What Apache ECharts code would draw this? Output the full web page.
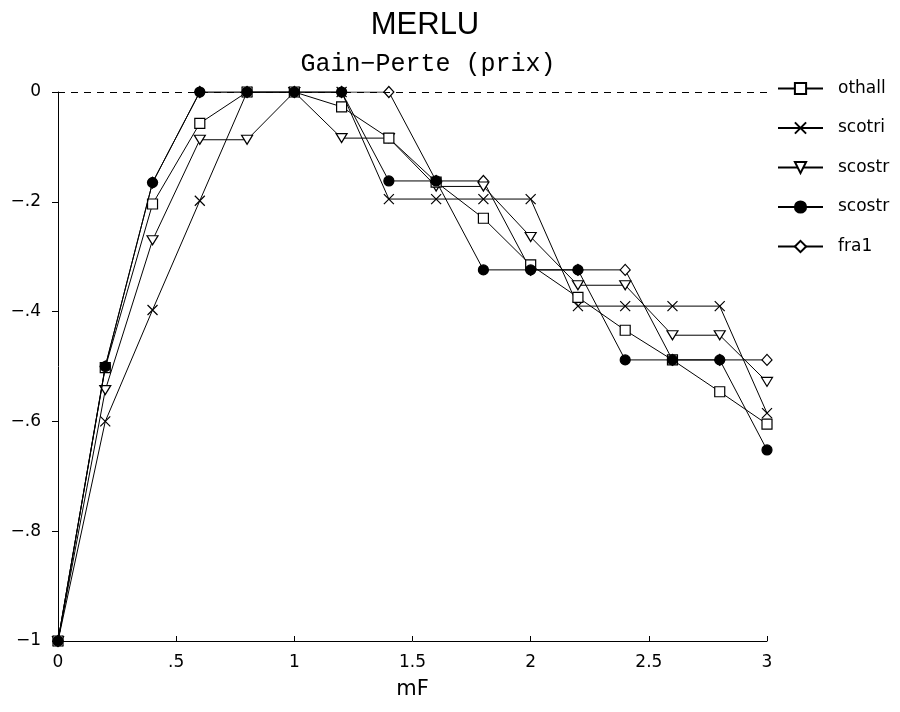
<!DOCTYPE html>
<html>
<head>
<meta charset="utf-8">
<script src="https://cdn.jsdelivr.net/npm/echarts@6/dist/echarts.min.js"></script>
<style>html,body{margin:0;padding:0;background:#fff}#c{width:900px;height:712px}</style>
</head>
<body>
<div id="c"></div>
<script>
const xValues = [0, 0.2, 0.4, 0.6, 0.8, 1.0, 1.2, 1.4, 1.6, 1.8, 2.0, 2.2, 2.4, 2.6, 2.8, 3.0];
const othall  = [-1, -0.502, -0.204, -0.057, 0, 0, -0.027, -0.084, -0.164, -0.230, -0.315, -0.374, -0.434, -0.488, -0.546, -0.605];
const scotri  = [-1, -0.600, -0.397, -0.198, 0, 0, 0, -0.195, -0.195, -0.195, -0.195, -0.390, -0.390, -0.390, -0.390, -0.585];
const scostrOpen = [-1, -0.543, -0.270, -0.087, -0.087, 0, -0.084, -0.084, -0.172, -0.172, -0.264, -0.352, -0.352, -0.443, -0.443, -0.528];
const scostrFill = [-1, -0.500, -0.165, 0, 0, 0, 0, -0.162, -0.162, -0.324, -0.324, -0.324, -0.488, -0.488, -0.488, -0.652];
const fra1    = [-1, -0.500, -0.165, 0, 0, 0, 0, 0, -0.162, -0.162, -0.324, -0.324, -0.324, -0.488, -0.488, -0.488];
const seriesNames = ['othall', 'scotri', 'scostr', 'scostr ', 'fra1'];
const xTickLabels = ['0', '.5', '1', '1.5', '2', '2.5', '3'];
const yTickLabels = ['\u22121', '\u2212.8', '\u2212.6', '\u2212.4', '\u2212.2', '0'];
const titleText = 'MERLU';
const subtitleText = 'Gain\u2212Perte (prix)';
const xAxisName = 'mF';

const pair = arr => xValues.map((x, i) => [x, arr[i]]);
const sym = {
  rect: 'rect',
  cross: 'path://M0,0L10,10M10,0L0,10',
  tri: 'path://M0,0L10,0L5,9Z',
  circle: 'circle',
  diamond: 'diamond'
};
function mk(name, data, symbol, size, fill, z) {
  return {
    name: name, type: 'line', data: pair(data), z: z,
    symbol: symbol, symbolSize: size, showSymbol: true,
    lineStyle: { color: '#000', width: 1 },
    itemStyle: { color: fill, borderColor: '#000', borderWidth: 1.2 },
    emphasis: { disabled: true }
  };
}
const series = [
  mk(seriesNames[0], othall, sym.rect, 10, '#fff', 4),
  mk(seriesNames[1], scotri, sym.cross, [10, 10], 'rgba(0,0,0,0)', 3),
  mk(seriesNames[2], scostrOpen, sym.tri, [11, 9], '#fff', 3),
  mk(seriesNames[3], scostrFill, sym.circle, 10, '#000', 5),
  mk(seriesNames[4], fra1, sym.diamond, [10, 11], '#fff', 2)
];
series[4].markLine = {
  silent: true, symbol: ['none', 'none'], label: { show: false },
  lineStyle: { color: '#000', type: [7, 6], width: 1 },
  data: [{ yAxis: 0 }]
};

const chart = echarts.init(document.getElementById('c'), null, { renderer: 'canvas' });
chart.setOption({
  animation: false,
  backgroundColor: '#fff',
  title: [
    { text: titleText, left: 425, top: 10, textAlign: 'center', padding: 0,
      textStyle: { fontFamily: 'Liberation Sans', fontSize: 31, fontWeight: 'normal', color: '#000' } },
    { text: subtitleText, left: 428, top: 52, textAlign: 'center', padding: 0,
      textStyle: { fontFamily: 'Liberation Mono', fontSize: 25, fontWeight: 'normal', color: '#000' } }
  ],
  legend: {
    orient: 'vertical', left: 777, top: 80, padding: 0,
    itemWidth: 45, itemHeight: 14, itemGap: 22.5,
    data: seriesNames,
    textStyle: { fontFamily: 'DejaVu Sans', fontSize: 17, color: '#000', padding: [0, 0, 0, 10] },
    selectedMode: false
  },
  grid: { left: 58, right: 133, top: 92, bottom: 71 },
  xAxis: {
    type: 'value', min: 0, max: 3, interval: 0.5,
    name: xAxisName, nameLocation: 'middle', nameGap: 38,
    nameTextStyle: { fontFamily: 'DejaVu Sans', fontSize: 21, color: '#000' },
    axisLine: { onZero: false, lineStyle: { color: '#000', width: 1 } },
    axisTick: { inside: true, length: 5, lineStyle: { color: '#000' } },
    axisLabel: { margin: 13, fontFamily: 'DejaVu Sans', fontSize: 17, color: '#000',
      formatter: v => xTickLabels[Math.round(v / 0.5)] },
    splitLine: { show: false }
  },
  yAxis: {
    type: 'value', min: -1, max: 0, interval: 0.2,
    axisLine: { show: true, onZero: false, lineStyle: { color: '#000', width: 1 } },
    axisTick: { show: true, inside: false, length: 6, lineStyle: { color: '#000' } },
    axisLabel: { margin: 17, fontFamily: 'DejaVu Sans', fontSize: 17, color: '#000',
      formatter: v => yTickLabels[Math.round((v + 1) / 0.2)] },
    splitLine: { show: false }
  },
  series: series
});
</script>
</body>
</html>
